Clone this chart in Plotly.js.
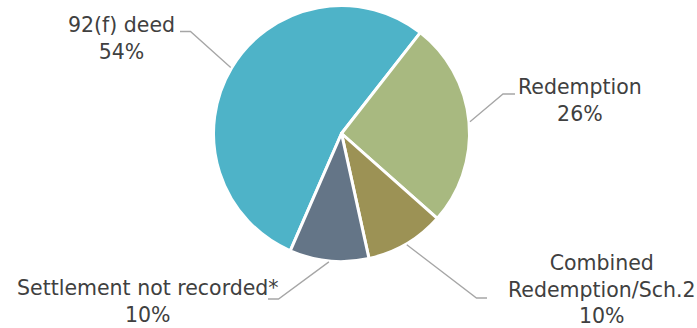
<!DOCTYPE html>
<html>
<head>
<meta charset="utf-8">
<script src="https://cdn.plot.ly/plotly-3.0.1.min.js"></script>
<style>html,body{margin:0;padding:0;background:#fff;}#chart{width:697px;height:328px;}</style>
</head>
<body>
<div id="chart"></div>
<script>
// ---- data ----
const categories = ['92(f) deed', 'Redemption', 'Combined<br>Redemption/Sch.2', 'Settlement not recorded*'];
const shares = [54, 26, 10, 10];
const percentLabels = ['54%', '26%', '10%', '10%'];

// ---- style / layout ----
const W = 697, H = 328;
const sliceColors = ['#4EB3C8', '#A8B980', '#9C9255', '#647587'];
const cx = 341.5, cy = 133.5, R = 128;
const rotationDeg = 203.6;
// label placement (pixels): elbow point, end of horizontal stub, text centre
const labelLayout = [
  {elbow: [190.5, 31.5], stub: [180, 31.5], text: [121.5, 38]},
  {elbow: [503, 94], stub: [515, 94], text: [580, 101]},
  {elbow: [476.5, 298], stub: [487, 298], text: [601.5, 289]},
  {elbow: [278.5, 299], stub: [268, 299], text: [148, 301.5]}
];
const fontFamily = '"DejaVu Sans", Verdana, sans-serif';
const fontSize = 20.5;
const textColor = '#404040';
const lineColor = '#A6A6A6';

const px = x => x / W;
const py = y => 1 - y / H;

const total = shares.reduce((a, b) => a + b, 0);
const shapes = [];
const annotations = [];
let angle = rotationDeg;
shares.forEach((v, i) => {
  const span = v / total * 360;
  const mid = (angle + span / 2) * Math.PI / 180;
  angle += span;
  const sx = cx + (R + 1) * Math.sin(mid);
  const sy = cy - (R + 1) * Math.cos(mid);
  const L = labelLayout[i];
  shapes.push({
    type: 'path', xref: 'paper', yref: 'paper',
    path: `M ${px(sx)} ${py(sy)} L ${px(L.elbow[0])} ${py(L.elbow[1])} L ${px(L.stub[0])} ${py(L.stub[1])}`,
    line: {color: lineColor, width: 1.3}
  });
  annotations.push({
    xref: 'paper', yref: 'paper', x: px(L.text[0]), y: py(L.text[1]),
    xanchor: 'center', yanchor: 'middle', align: 'center', showarrow: false,
    text: categories[i] + '<br>' + percentLabels[i],
    font: {family: fontFamily, size: fontSize, color: textColor}
  });
});

const trace = {
  type: 'pie',
  labels: categories,
  values: shares,
  sort: false,
  direction: 'clockwise',
  rotation: rotationDeg,
  textinfo: 'none',
  hoverinfo: 'label+percent',
  marker: {colors: sliceColors, line: {color: '#ffffff', width: 3}},
  domain: {x: [px(cx - R), px(cx + R)], y: [py(cy + R), py(cy - R)]},
  showlegend: false
};

const layout = {
  width: W, height: H,
  margin: {l: 0, r: 0, t: 0, b: 0, pad: 0},
  paper_bgcolor: '#ffffff',
  plot_bgcolor: '#ffffff',
  showlegend: false,
  shapes: shapes,
  annotations: annotations,
  font: {family: fontFamily, color: textColor}
};

Plotly.newPlot('chart', [trace], layout, {staticPlot: true, displayModeBar: false});
</script>
</body>
</html>
